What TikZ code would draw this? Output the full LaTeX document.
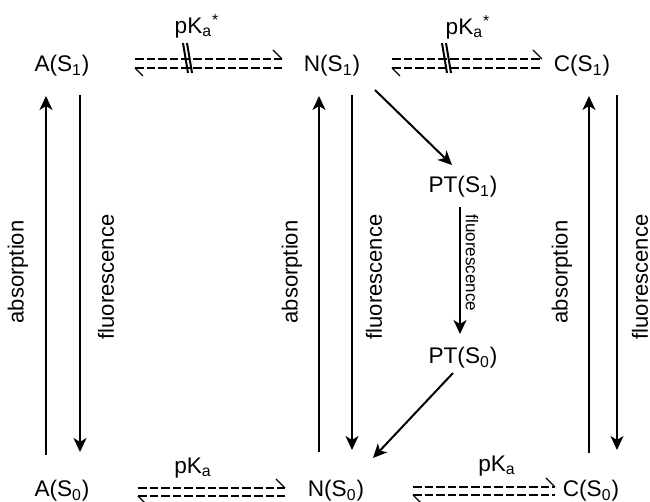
\documentclass[tikz,border=0pt]{standalone}
\usepackage{fontspec}
\setmainfont{Liberation Sans}
\usetikzlibrary{arrows.meta,calc}
\newcommand\eqarr[4]{%
  \draw[eqline] (#1,#3) -- (#2,#3);
  \draw[eqline] (#1,#4) -- (#2,#4);
  \draw[barb] (#2,#3) -- ++(-9,-9);
  \draw[barb] (#1,#4) -- ++(8,8);
}
\newcommand\blockmark[3]{%
  \draw[blockline] (#1,#2) -- (#1+5,#3);
  \draw[blockline] (#1+4,#2) -- (#1+9,#3);
}
\begin{document}
\begin{tikzpicture}[x=0.5pt,y=-0.5pt,
  state/.style={inner sep=0pt, font=\fontsize{11.3}{13}\selectfont},
  lbl/.style={inner sep=0pt, font=\fontsize{11}{13}\selectfont, rotate=90},
  smalllbl/.style={inner sep=0pt, font=\fontsize{8.5}{10}\selectfont, rotate=-90},
  trans/.style={line width=1pt, -{Stealth[length=7pt,width=6.5pt,inset=2pt]}},
  eqline/.style={line width=0.85pt, dash pattern=on 4.3pt off 1.5pt},
  barb/.style={line width=0.6pt},
  blockline/.style={line width=1pt}]
\useasboundingbox (0,0) rectangle (650,502);

% states
\node[state] (A1) at (62,66) {A(S\textsubscript{1})};
\node[state] (A0) at (62,491) {A(S\textsubscript{0})};
\node[state] (N1) at (332,66) {N(S\textsubscript{1})};
\node[state] (N0) at (336,491) {N(S\textsubscript{0})};
\node[state] (C1) at (582,66) {C(S\textsubscript{1})};
\node[state] (C0) at (591,491) {C(S\textsubscript{0})};
\node[state] (PT1) at (463,187) {PT(S\textsubscript{1})};
\node[state] (PT0) at (463,358) {PT(S\textsubscript{0})};

% A transitions
\draw[trans] ($(A0)+(-16,-36)$) -- ($(A1)+(-16,30)$);
\draw[trans] ($(A1)+(18,29)$) -- ($(A0)+(18,-39)$);
\node[lbl] (absA) at (18,272) {absorption};
\node[lbl] (fluA) at (106,277) {fluorescence};

% N transitions
\draw[trans] ($(N0)+(-17,-39)$) -- ($(N1)+(-13,30)$);
\draw[trans] ($(N1)+(20,29)$) -- ($(N0)+(16,-41)$);
\node[lbl] (absN) at (292,272) {absorption};
\node[lbl] (fluN) at (374,277) {fluorescence};

% C transitions
\draw[trans] ($(C0)+(-2,-38)$) -- ($(C1)+(7,30)$);
\draw[trans] ($(C1)+(35,29)$) -- ($(C0)+(26,-41)$);
\node[lbl] (absC) at (562,272) {absorption};
\node[lbl] (fluC) at (640,277) {fluorescence};

% proton transfer path
\draw[trans] ($(N1)+(43,24)$) -- ($(PT1)+(-11,-22)$);
\draw[trans] ($(PT1)+(-3,20)$) -- ($(PT0)+(-3,-24)$);
\node[smalllbl] (fluPT) at (472,263) {fluorescence};
\draw[trans] ($(PT0)+(-10,15)$) -- ($(N0)+(37,-33)$);

% equilibria
\eqarr{135}{282}{59}{68}
\blockmark{183}{43}{73}
\node[state] (pKs1) at (197,26) {pK\textsubscript{a}\textsuperscript{*}};
\eqarr{392}{542}{59}{68}
\blockmark{442}{43}{73}
\node[state] (pKs2) at (468,27) {pK\textsubscript{a}\textsuperscript{*}};
\eqarr{138}{285}{488}{496}
\node[state] (pK1) at (193,468) {pK\textsubscript{a}};
\eqarr{413}{555}{487}{495}
\node[state] (pK2) at (497,466) {pK\textsubscript{a}};
\end{tikzpicture}
\end{document}
